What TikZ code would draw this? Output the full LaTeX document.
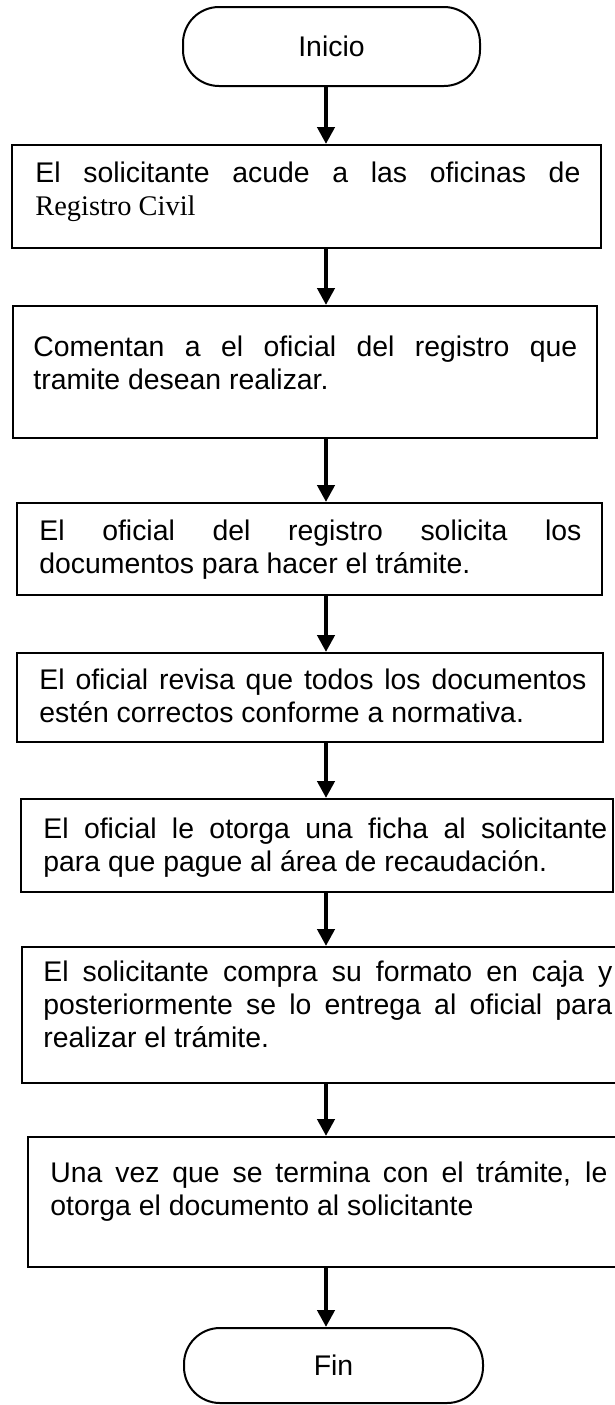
\documentclass[tikz,border=0pt]{standalone}
\usepackage{fontspec}
\setmainfont{Liberation Sans}
\newfontfamily\regserif{Liberation Serif}
\usetikzlibrary{arrows.meta}
\newcommand\jline[2]{\makebox[#1][s]{#2}}
\begin{document}
\begin{tikzpicture}[x=0.5pt,y=-0.5pt,
  box/.style={draw, line width=1pt, rectangle, inner sep=0pt},
  term/.style={draw, line width=1pt, rectangle, rounded corners=18pt, inner sep=0pt,
    font=\fontsize{14.2}{16.5}\selectfont},
  txt/.style={inner sep=0pt, anchor=base west, font=\fontsize{14.2}{16.5}\selectfont},
  arr/.style={line width=2.2pt, -{Triangle[length=8.5pt,width=8.5pt]}}]
\useasboundingbox (0,0) rectangle (615,1405);

% terminals
\node[term, minimum width=148.5pt, minimum height=39.5pt] (ini) at (331.5,46.5) {Inicio};
\node[term, minimum width=149.5pt, minimum height=37.5pt] (fin) at (333.5,1365.5) {\raisebox{-3pt}{Fin}};

% process boxes
\node[box, minimum width=294.5pt, minimum height=51.5pt] (b1) at (306.5,196.5) {};
\node[box, minimum width=292pt,   minimum height=66pt]   (b2) at (305,372) {};
\node[box, minimum width=292.5pt, minimum height=46pt]   (b3) at (309.5,549) {};
\node[box, minimum width=293pt,   minimum height=44.5pt] (b4) at (310,697.5) {};
\node[box, minimum width=296pt,   minimum height=46.5pt] (b5) at (317,845.5) {};
\node[box, minimum width=300pt,   minimum height=68pt]   (b6) at (322,1015) {};
\node[box, minimum width=297pt,   minimum height=65pt]   (b7) at (325,1202) {};

% texts
\node[txt] (t1) at (35,182) {\parbox[t]{272.5pt}{\jline{272.5pt}{El solicitante acude a las oficinas de}\\{\regserif Registro Civil}}};
\node[txt] (t2) at (33,356) {\parbox[t]{272pt}{\jline{272pt}{Comentan a el oficial del registro que}\\tramite desean realizar.}};
\node[txt] (t3) at (39,540) {\parbox[t]{271pt}{\jline{271pt}{El oficial del registro solicita los}\\documentos para hacer el trámite.}};
\node[txt] (t4) at (39,689) {\parbox[t]{273.5pt}{\jline{273.5pt}{El oficial revisa que todos los documentos}\\estén correctos conforme a normativa.}};
\node[txt] (t5) at (43,838) {\parbox[t]{282pt}{\jline{282pt}{El oficial le otorga una ficha al solicitante}\\para que pague al área de recaudación.}};
\node[txt] (t6) at (43,981) {\parbox[t]{284.5pt}{\jline{284.5pt}{El solicitante compra su formato en caja y}\\\jline{284.5pt}{posteriormente se lo entrega al oficial para}\\realizar el trámite.}};
\node[txt] (t7) at (50,1182) {\parbox[t]{278.5pt}{\jline{278.5pt}{Una vez que se termina con el trámite, le}\\otorga el documento al solicitante}};

% connectors
\coordinate (ax) at (326,0);
\draw[arr] (ax |- ini.south) -- (ax |- b1.north);
\draw[arr] (ax |- b1.south) -- (ax |- b2.north);
\draw[arr] (ax |- b2.south) -- (ax |- b3.north);
\draw[arr] (ax |- b3.south) -- (ax |- b4.north);
\draw[arr] (ax |- b4.south) -- (ax |- b5.north);
\draw[arr] (ax |- b5.south) -- (ax |- b6.north);
\draw[arr] (ax |- b6.south) -- (ax |- b7.north);
\draw[arr] (ax |- b7.south) -- (ax |- fin.north);
\end{tikzpicture}
\end{document}
